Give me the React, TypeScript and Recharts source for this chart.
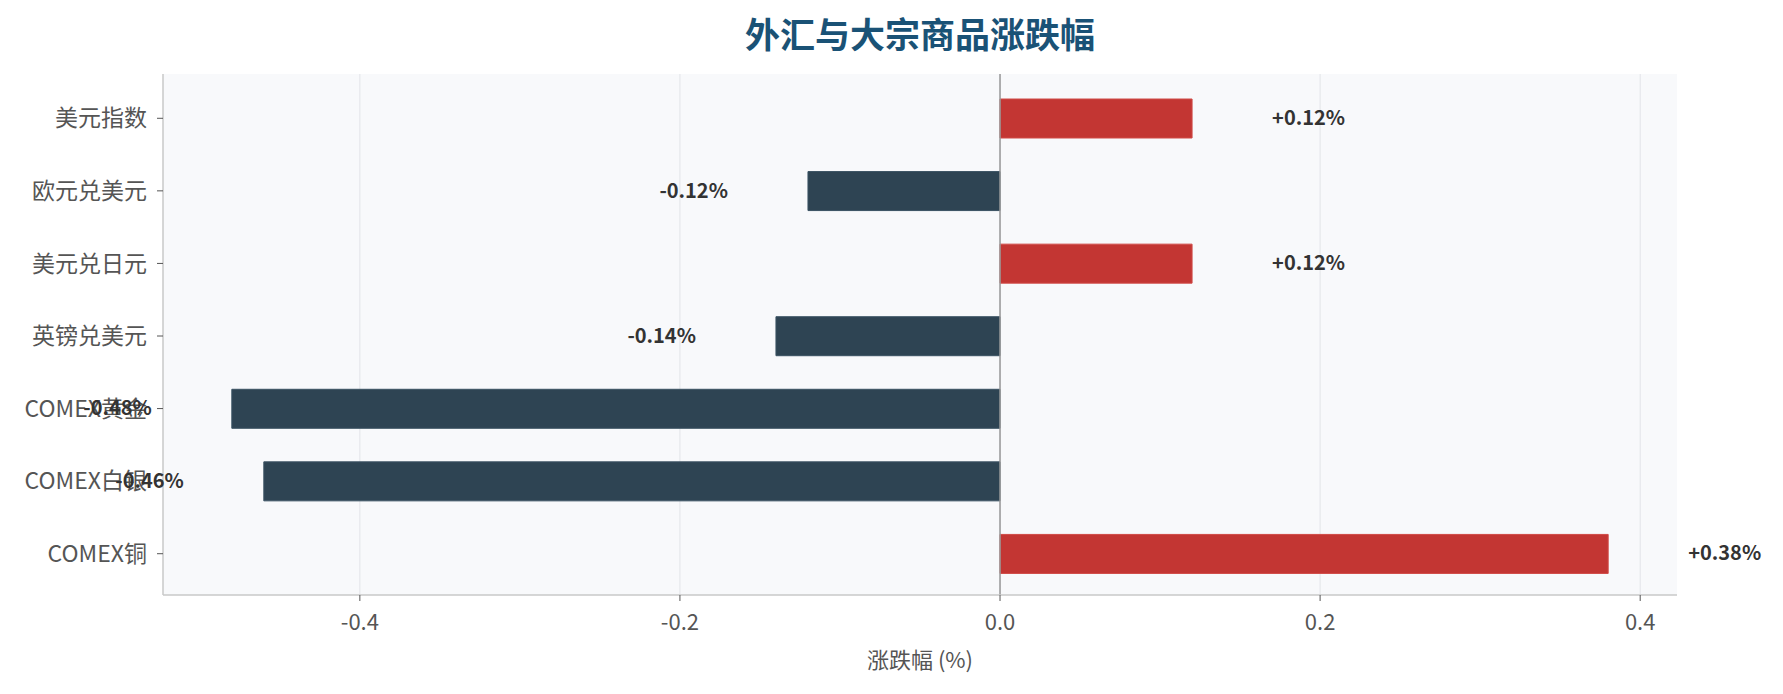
import React from 'react';
import {
  Bar,
  BarChart,
  CartesianGrid,
  Cell,
  LabelList,
  ReferenceLine,
  XAxis,
  YAxis,
} from 'recharts';

const categories = ['美元指数', '欧元兑美元', '美元兑日元', '英镑兑美元', 'COMEX黄金', 'COMEX白银', 'COMEX铜'];
const changes = [0.12, -0.12, 0.12, -0.14, -0.48, -0.46, 0.38];
const xTicks = [-0.4, -0.2, 0, 0.2, 0.4];

const UP = '#c33633';
const DOWN = '#2e4453';
const FONT = '"Noto Sans CJK SC", "Noto Sans", sans-serif';

const data = categories.map((name, i) => ({ name, change: changes[i] }));

function ValueLabel(props: any) {
  const { x, y, width, height, value } = props;
  const w = Number(width);
  const v = Number(value);
  if (!v) return null;
  // offset of 0.05 data units, taken from the bar's own pixel scale
  const off = (Math.abs(w) / Math.abs(v)) * 0.05;
  const left = Math.min(x, x + w);
  const right = Math.max(x, x + w);
  const cy = y + height / 2 - 2;
  const pos = v >= 0;
  return (
    <text
      x={pos ? right + off : left - off}
      y={cy}
      textAnchor={pos ? 'start' : 'end'}
      dominantBaseline="central"
      fontSize={20}
      fontWeight={700}
      fill="#333"
      fontFamily={FONT}
    >
      {pos ? `+${v.toFixed(2)}%` : `${v.toFixed(2)}%`}
    </text>
  );
}

export default function App() {
  return (
    <div style={{ position: 'absolute', left: 0, top: 0, width: 1783, height: 694, background: '#fff', fontFamily: FONT }}>
      <div
        style={{
          position: 'absolute',
          left: 920,
          top: 7,
          transform: 'translateX(-50%)',
          fontSize: 35,
          fontWeight: 700,
          color: '#1a5276',
          whiteSpace: 'nowrap',
        }}
      >
        外汇与大宗商品涨跌幅
      </div>
      <BarChart
        width={1783}
        height={694}
        data={data}
        layout="vertical"
        margin={{ top: 74, right: 106, bottom: 19, left: 0 }}
      >
        <CartesianGrid fill="#f8f9fb" stroke="none" horizontal={false} vertical={false} />
        <XAxis
          type="number"
          domain={[-0.523, 0.423]}
          ticks={xTicks}
          tickFormatter={(v) => Number(v).toFixed(1)}
          height={80}
          tick={{ fontSize: 22, fill: '#555', fontFamily: FONT }}
          tickSize={6}
          tickMargin={13}
          tickLine={{ stroke: '#555' }}
          axisLine={{ stroke: '#c8c8c8', strokeWidth: 1.5 }}
          label={{ value: '涨跌幅 (%)', position: 'insideBottom', offset: 7, fontSize: 22, fill: '#555', fontFamily: FONT }}
        />
        <YAxis
          type="category"
          dataKey="name"
          width={163}
          padding={{ top: 8, bottom: 5 }}
          tick={{ fontSize: 23, fill: '#555', fontFamily: FONT }}
          tickSize={6}
          tickMargin={10}
          tickLine={{ stroke: '#555' }}
          axisLine={{ stroke: '#c8c8c8', strokeWidth: 1.5 }}
        />
        <Bar dataKey="change" barSize={39} isAnimationActive={false}>
          {data.map((d) => (
            <Cell key={d.name} fill={d.change >= 0 ? UP : DOWN} stroke={d.change >= 0 ? '#d04a46' : '#3a5262'} strokeWidth={1} />
          ))}
          <LabelList dataKey="change" content={<ValueLabel />} />
        </Bar>
        <CartesianGrid stroke="#e2e4e8" horizontal={false} vertical verticalValues={xTicks} />
        <ReferenceLine x={0} stroke="#999" strokeWidth={1.5} />
      </BarChart>
    </div>
  );
}
